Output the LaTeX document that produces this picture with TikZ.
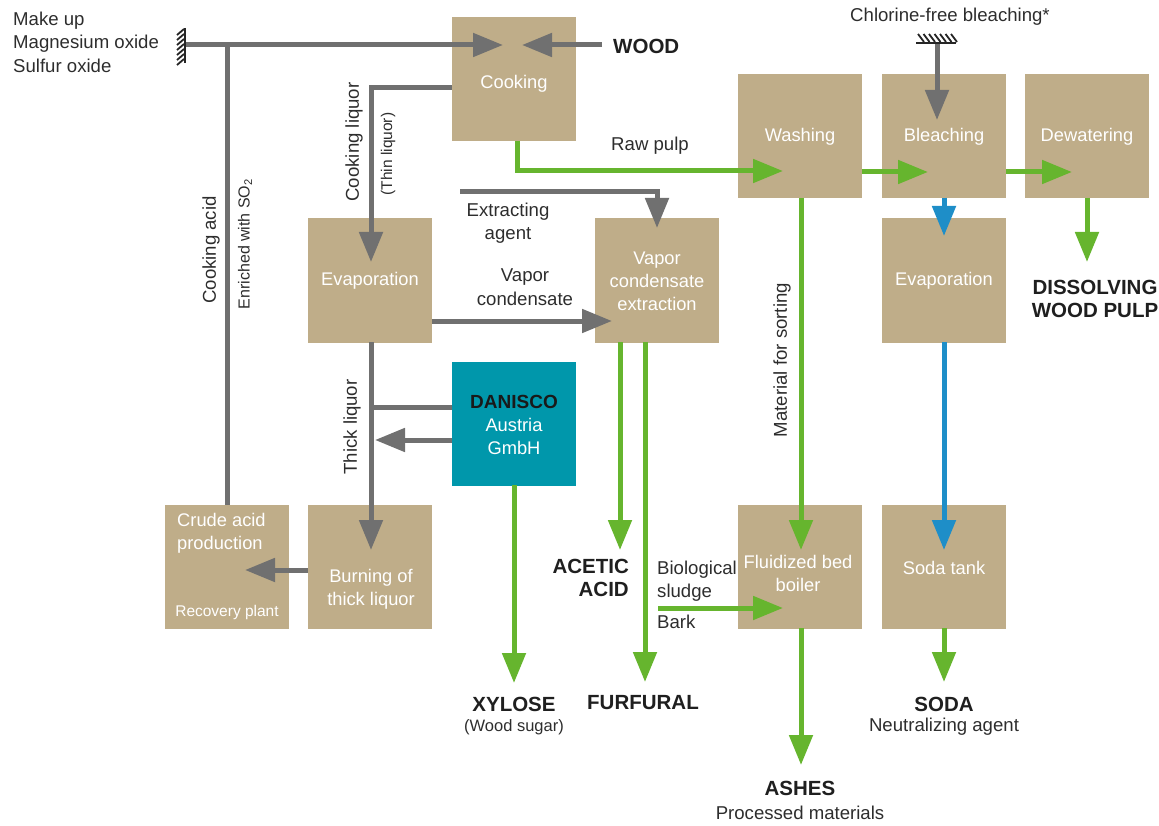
\documentclass[tikz,border=0pt]{standalone}
\usepackage{fontspec}
\setmainfont{Liberation Sans}
\usetikzlibrary{arrows.meta}
\definecolor{boxtan}{RGB}{191,173,137}
\definecolor{dteal}{RGB}{0,151,171}
\definecolor{lgray}{RGB}{112,112,112}
\definecolor{lgreen}{RGB}{102,181,46}
\definecolor{lblue}{RGB}{30,142,200}
\definecolor{txt}{RGB}{45,45,45}
\newcommand\fmain{\fontsize{18.6}{23.5}\selectfont}
\newcommand\fboxtxt{\fontsize{18.3}{23}\selectfont}
\newcommand\fsmall{\fontsize{15.5}{19}\selectfont}
\newcommand\fbold{\fontsize{20.5}{23.5}\selectfont\bfseries}
\begin{document}
\begin{tikzpicture}[x=1pt,y=-1pt,
  box/.style={fill=boxtan, minimum width=124pt, minimum height=124pt, inner sep=0pt, outer sep=0pt, text=white, font=\fboxtxt, align=center},
  intext/.style={text=white, font=\fboxtxt, align=center, inner sep=0pt},
  lbl/.style={text=txt, font=\fmain, align=center, inner sep=0pt},
  big/.style={text=black!88, font=\fbold, align=center, inner sep=0pt},
  tip/.style={-{Triangle[length=30pt,width=23pt]}},
  gline/.style={draw=lgray, line width=5pt},
  grline/.style={draw=lgreen, line width=5pt},
  bline/.style={draw=lblue, line width=5pt},
  hatch/.style={draw=black!85, line width=1.8pt}]
\useasboundingbox (0,0) rectangle (1159,826);

% ---------- boxes ----------
\node[box] (cook)    at (514,79.5)  {};
\node[box] (wash)    at (800,136.5) {};
\node[box] (bleach)  at (944,136.5) {};
\node[box] (dewat)   at (1087,136.5) {};
\node[box] (evapL)   at (370,280.5) {};
\node[box] (vapor)   at (657,280.5) {};
\node[box] (evapR)   at (944,280.5) {};
\node[box, fill=dteal] (danisco) at (514,423.5) {};
\node[box] (crude)   at (227,566.5) {};
\node[box] (burn)    at (370,566.5) {};
\node[box] (fluid)   at (800,566.5) {};
\node[box] (soda)    at (944,566.5) {};

% ---------- box texts ----------
\node[intext] (tcook) at (514,84) {Cooking};
\node[intext] (twash) at (800,137) {Washing};
\node[intext] (tbleach) at (944,137) {Bleaching};
\node[intext] (tdewat) at (1087,137) {Dewatering};
\node[intext] (tevapL) at (370,281) {Evaporation};
\node[intext] (tvapor) at (657,281) {Vapor\\condensate\\extraction};
\node[intext] (tevapR) at (944,281) {Evaporation};
\node[big, text=black!90, font=\fontsize{19}{23}\selectfont\bfseries] (tdan) at (514,402) {DANISCO};
\node[intext] (taus) at (514,436) {Austria\\GmbH};
\node[intext, align=left, anchor=west] (tcrude) at (177,533) {Crude acid\\production};
\node[intext, font=\fsmall] (trec) at (227,612) {Recovery plant};
\node[intext] (tburn) at (371,589) {Burning of\\thick liquor};
\node[intext] (tfluid) at (798,573) {Fluidized bed\\boiler};
\node[intext] (tsoda) at (944,568) {Soda tank};

% ---------- coordinates ----------
\coordinate (hatchL) at (185,45);
\coordinate (cookInL) at (503,45);
\coordinate (cookInR) at (522,45);
\coordinate (woodS) at (602,45);
\coordinate (acidJ) at (227,45);
\coordinate (cookLiq) at (452,88);
\coordinate (cookLiqB) at (371,88);
\coordinate (evapLin) at (371,262);
\coordinate (pulpS) at (517,141);
\coordinate (pulpB) at (517,171);
\coordinate (washIn) at (783,171);
\coordinate (extS) at (460,192);
\coordinate (extB) at (657,192);
\coordinate (vapIn) at (657,228);
\coordinate (vcS) at (432,321);
\coordinate (vcT) at (612,321);
\coordinate (thickS) at (371,342);
\coordinate (burnIn) at (371,550);
\coordinate (danA) at (452,407);
\coordinate (danAJ) at (371,407);
\coordinate (danB) at (452,440);
\coordinate (danBT) at (375,440);
\coordinate (xylS) at (514,485);
\coordinate (xylT) at (514,683);
\coordinate (burnOut) at (308,570);
\coordinate (crudeIn) at (245,570);
\coordinate (aceS) at (620,342);
\coordinate (aceT) at (620,550);
\coordinate (furS) at (645,342);
\coordinate (furT) at (645,682);
\coordinate (bioS) at (658,608);
\coordinate (bioT) at (783,608);
\coordinate (matS) at (801,198);
\coordinate (matT) at (801,550);
\coordinate (ashS) at (801,628);
\coordinate (ashT) at (801,765);
\coordinate (wbS) at (862,172);
\coordinate (wbT) at (928,172);
\coordinate (bdS) at (1006,172);
\coordinate (bdT) at (1072,172);
\coordinate (clS) at (937,43);
\coordinate (clT) at (937,120);
\coordinate (beS) at (944,198);
\coordinate (beT) at (944,236);
\coordinate (esS) at (944,342);
\coordinate (esT) at (944,550);
\coordinate (sdS) at (944,628);
\coordinate (sdT) at (944,682);
\coordinate (dwS) at (1087,198);
\coordinate (dwT) at (1087,262);

% ---------- gray connectors ----------
\draw[gline, tip] (hatchL) -- (cookInL);
\draw[gline] (acidJ) -- (crude.north);
\draw[gline, tip] (woodS) -- (cookInR);
\draw[gline, tip] (cookLiq) -- (cookLiqB) -- (evapLin);
\draw[gline, tip] (extS) -- (extB) -- (vapIn);
\draw[gline, tip] (vcS) -- (vcT);
\draw[gline, tip] (thickS) -- (burnIn);
\draw[gline] (danA) -- (danAJ);
\draw[gline, tip] (danB) -- (danBT);
\draw[gline, tip] (burnOut) -- (crudeIn);
\draw[gline, tip] (clS) -- (clT);

% ---------- green connectors ----------
\draw[grline, tip] (pulpS) -- (pulpB) -- (washIn);
\draw[grline, tip] (xylS) -- (xylT);
\draw[grline, tip] (aceS) -- (aceT);
\draw[grline, tip] (furS) -- (furT);
\draw[grline, tip] (bioS) -- (bioT);
\draw[grline, tip] (matS) -- (matT);
\draw[grline, tip] (ashS) -- (ashT);
\draw[grline, tip] (wbS) -- (wbT);
\draw[grline, tip] (bdS) -- (bdT);
\draw[grline, tip] (sdS) -- (sdT);
\draw[grline, tip] (dwS) -- (dwT);

% ---------- blue connectors ----------
\draw[bline, tip] (beS) -- (beT);
\draw[bline, tip] (esS) -- (esT);

% ---------- hatches ----------
\draw[hatch, line width=2.6pt] (185,28) -- (185,63);
\foreach \yy in {29,34,39,44,49,54,59}
  \draw[hatch] (177,\yy+6) -- (184,\yy);
\draw[hatch, line width=2.6pt] (916,43) -- (956,43);
\foreach \xx in {918,923.5,929,934.5,940,945.5,951}
  \draw[hatch] (\xx,34) -- (\xx+6,42);

% ---------- labels ----------
\node[lbl, align=left, anchor=west] (makeup) at (13,42) {Make up\\Magnesium oxide\\Sulfur oxide};
\node[big, anchor=west] (wood) at (613,46) {WOOD};
\node[lbl] (chlor) at (950,17) {Chlorine-free bleaching*};
\node[lbl] (rawpulp) at (650,146) {Raw pulp};
\node[lbl, rotate=90] (cookliq) at (354,142) {Cooking liquor};
\node[lbl, rotate=90, font=\fsmall] (thinliq) at (388,154) {(Thin liquor)};
\node[lbl, rotate=90] (cookacid) at (211,250) {Cooking acid};
\node[lbl, rotate=90, font=\fontsize{16}{19}\selectfont] (enriched) at (245,244) {Enriched with SO\textsubscript{2}};
\node[lbl] (extag) at (508,223) {Extracting\\agent};
\node[lbl] (vapcond) at (525,287) {Vapor\\condensate};
\node[lbl, rotate=90] (thickliq) at (352,427) {Thick liquor};
\node[lbl, rotate=90] (matsort) at (782,360) {Material for sorting};
\node[big, align=right, anchor=east] (acetic) at (629,578) {ACETIC\\ACID};
\node[lbl, align=left, anchor=west] (bio) at (657,581) {Biological\\sludge};
\node[lbl, anchor=west] (bark) at (657,622) {Bark};
\node[big] (xylose) at (514,704) {XYLOSE};
\node[lbl, font=\fontsize{16.5}{20}\selectfont] (woodsugar) at (514,727) {(Wood sugar)};
\node[big] (furfural) at (643,703) {FURFURAL};
\node[big] (ashes) at (800,788) {ASHES};
\node[lbl] (procmat) at (800,813) {Processed materials};
\node[big] (sodaL) at (944,704) {SODA};
\node[lbl] (neutral) at (944,727) {Neutralizing agent};
\node[big] (dissolv) at (1095,299) {DISSOLVING\\WOOD PULP};
\end{tikzpicture}
\end{document}
